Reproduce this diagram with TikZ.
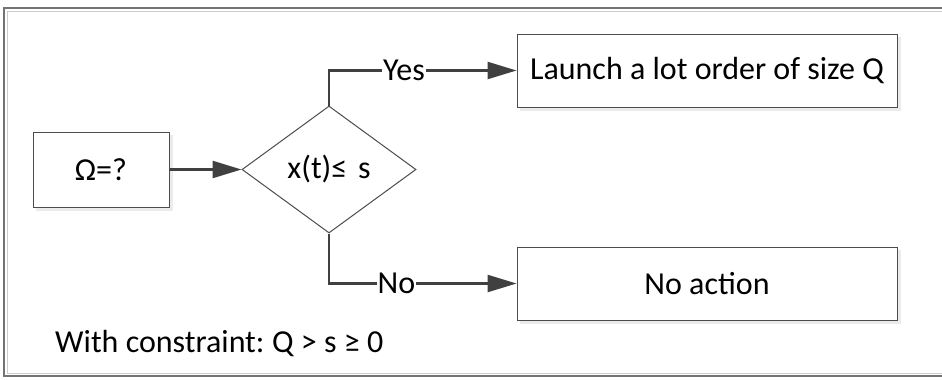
\documentclass[tikz,border=0pt]{standalone}
\usepackage{fontspec}
\setmainfont{Carlito}
\usetikzlibrary{shapes.geometric,arrows.meta}
\tikzset{
  px/.style={x=1pt,y=-1pt},
  labelfont/.style={font=\fontsize{32}{38}\selectfont},
  boxshape/.style={draw=black!70,line width=1pt,fill=white,inner sep=0pt,labelfont,
    preaction={draw=black!8,fill=black!8,transform canvas={shift={(3pt,-3pt)}}}},
  decision/.style={diamond,draw=black!70,line width=1pt,fill=white,inner sep=0pt,
    aspect=1.37,minimum width=174pt,minimum height=127pt,labelfont},
  flow/.style={draw=black!75,line width=2.5pt,
    -{Triangle[length=29pt,width=17pt]}},
  branchlabel/.style={fill=white,inner sep=1pt,labelfont},
}
\begin{document}
\begin{tikzpicture}[px]
  \useasboundingbox (0,0) rectangle (942,380);
  % outer frame, running off the right edge
  \begin{scope}
    \clip (0,0) rectangle (942,380);
    \draw[black!20,line width=1pt] (7,11) -- (990,11) (7,11) -- (7,373) -- (990,373);
    \draw[black!55,line width=1.3pt] (990,8) -- (4,8) -- (4,376) -- (990,376);
  \end{scope}

  % nodes
  \node[boxshape,minimum width=136pt,minimum height=75pt] (omega) at (101,169.5) {Ω=?};
  \node[decision] (test) at (329,169.5) {x(t)≤\,\,s};
  \node[boxshape,minimum width=380pt,minimum height=73pt] (launch) at (707,70.5) {Launch a lot order of size Q};
  \node[boxshape,minimum width=380pt,minimum height=73pt] (noact) at (707,283.5) {No action};
  \node[anchor=west,inner sep=0pt,labelfont] (constraint) at (55,344) {With constraint:\hspace{-2pt} Q > s ≥ 0};

  % connectors
  \draw[flow] (omega.east) -- (test.west);
  \draw[flow] (test.north) |- node[branchlabel,pos=0.7] (yes) {Yes} (launch.west);
  \draw[flow] (test.south) |- node[branchlabel,pos=0.68] (no) {No} (noact.west);
\end{tikzpicture}
\end{document}
